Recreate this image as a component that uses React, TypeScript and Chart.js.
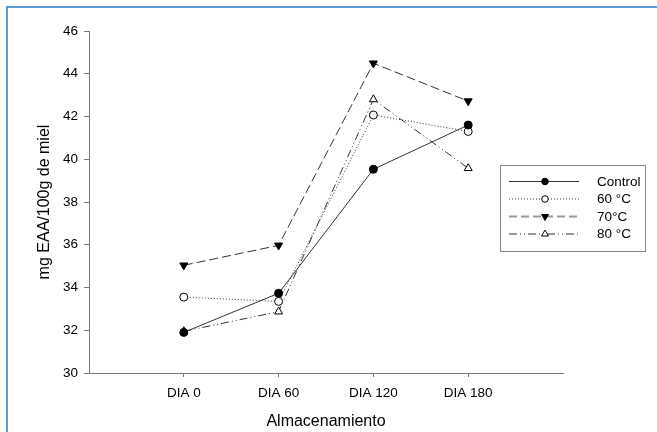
import { useEffect, useRef } from 'react';
import { Chart, registerables } from 'chart.js';

Chart.register(...registerables);

const categories = ['DIA 0', 'DIA 60', 'DIA 120', 'DIA 180'];
const seriesNames = ['Control', '60 °C', '70°C', '80 °C'];
const controlValues = [31.9, 33.73, 39.53, 41.6];
const c60Values = [33.55, 33.35, 42.07, 41.3];
const c70Values = [35.04, 35.97, 44.49, 42.72];
const c80Values = [31.95, 32.87, 42.8, 39.58];
const yMin = 30;
const yMax = 46;
const yStep = 2;

const FONT = '"Liberation Sans", Arial, sans-serif';
const LINE = '#333';

function drawMarker(ctx: CanvasRenderingContext2D, style: string, rot: number, x: number, y: number, r: number, fill: string) {
  ctx.save();
  ctx.setLineDash([]);
  ctx.lineWidth = 1;
  ctx.strokeStyle = '#000';
  ctx.fillStyle = fill;
  ctx.beginPath();
  if (style === 'circle') {
    ctx.arc(x, y, r, 0, Math.PI * 2);
  } else {
    const base = (rot * Math.PI) / 180 - Math.PI / 2;
    for (let k = 0; k < 3; k++) {
      const a = base + (k * 2 * Math.PI) / 3;
      const px = x + Math.cos(a) * r;
      const py = y + Math.sin(a) * r;
      if (k === 0) ctx.moveTo(px, py);
      else ctx.lineTo(px, py);
    }
    ctx.closePath();
  }
  ctx.fill();
  ctx.stroke();
  ctx.restore();
}

const boxLegend = {
  id: 'boxLegend',
  afterDraw(chart: any) {
    const ctx: CanvasRenderingContext2D = chart.ctx;
    ctx.save();
    ctx.strokeStyle = '#888';
    ctx.lineWidth = 1;
    ctx.setLineDash([]);
    ctx.strokeRect(500.5, 165.5, 145, 86);
    chart.data.datasets.forEach((ds: any, i: number) => {
      const y = 181.5 + i * 17.5;
      ctx.save();
      ctx.beginPath();
      ctx.setLineDash(ds.legendDash || ds.borderDash || []);
      ctx.strokeStyle = ds.legendColor || ds.borderColor;
      ctx.lineWidth = ds.legendWidth || ds.borderWidth;
      ctx.moveTo(509, y);
      ctx.lineTo(579, y);
      ctx.stroke();
      ctx.restore();
      drawMarker(ctx, ds.pointStyle, ds.pointRotation || 0, 545, y, ds.pointStyle === 'circle' ? 3.3 : 4, ds.pointBackgroundColor);
      ctx.fillStyle = '#000';
      ctx.font = `13.5px ${FONT}`;
      ctx.textAlign = 'left';
      ctx.textBaseline = 'middle';
      ctx.fillText(ds.label, 597, y + 0.5);
    });
    ctx.restore();
  },
};

const toPoints = (vals: number[]) => vals.map((v, i) => ({ x: i + 1, y: v }));

export default function App() {
  const ref = useRef<HTMLCanvasElement>(null);
  useEffect(() => {
    document.body.style.margin = '0';
    const canvas = ref.current!;
    const chart = new Chart(canvas, {
      type: 'line',
      data: {
        datasets: [
          {
            label: seriesNames[0],
            data: toPoints(controlValues),
            borderColor: LINE,
            borderWidth: 1,
            pointStyle: 'circle',
            pointRadius: 4,
            pointBackgroundColor: '#000',
            pointBorderColor: '#000',
            pointBorderWidth: 1,
          } as any,
          {
            label: seriesNames[1],
            data: toPoints(c60Values),
            borderColor: LINE,
            borderWidth: 1,
            borderDash: [1, 2],
            pointStyle: 'circle',
            pointRadius: 4,
            pointBackgroundColor: '#fff',
            pointBorderColor: '#000',
            pointBorderWidth: 1,
          },
          {
            label: seriesNames[2],
            data: toPoints(c70Values),
            borderColor: LINE,
            borderWidth: 1,
            borderDash: [9, 4],
            legendDash: [8, 4],
            legendColor: '#999',
            legendWidth: 2,
            pointStyle: 'triangle',
            pointRotation: 180,
            pointRadius: 4.6,
            pointBackgroundColor: '#000',
            pointBorderColor: '#000',
            pointBorderWidth: 1,
          },
          {
            label: seriesNames[3],
            data: toPoints(c80Values),
            borderColor: LINE,
            borderWidth: 1,
            borderDash: [8, 3, 1, 3, 1, 3],
            pointStyle: 'triangle',
            pointRadius: 4.6,
            pointBackgroundColor: '#fff',
            pointBorderColor: '#000',
            pointBorderWidth: 1,
          },
        ] as any,
      },
      options: {
        animation: false,
        responsive: false,
        events: [],
        layout: { padding: { left: 0, right: 94, top: 31, bottom: 0 } },
        plugins: { legend: { display: false }, tooltip: { enabled: false } },
        scales: {
          x: {
            type: 'linear',
            min: 0,
            max: categories.length + 1,
            afterBuildTicks: (s: any) => {
              s.ticks = categories.map((_, i) => ({ value: i + 1 }));
            },
            afterFit: (s: any) => {
              s.height = 59;
            },
            ticks: {
              autoSkip: false,
              maxRotation: 0,
              padding: 8,
              color: '#000',
              font: { family: FONT, size: 13.5 },
              callback: (v: any) => categories[Number(v) - 1] ?? '',
            },
            grid: { drawOnChartArea: false, drawTicks: true, tickLength: 4, color: '#777' },
            border: { display: true, color: '#777', width: 1 },
            title: {
              display: true,
              text: 'Almacenamiento',
              color: '#000',
              font: { family: FONT, size: 16 },
              padding: { top: 0, bottom: 1 },
            },
          },
          y: {
            type: 'linear',
            min: yMin,
            max: yMax,
            afterFit: (s: any) => {
              s.width = 89;
            },
            ticks: {
              stepSize: yStep,
              padding: 6,
              color: '#000',
              font: { family: FONT, size: 13.5 },
            },
            grid: { drawOnChartArea: false, drawTicks: true, tickLength: 5, color: '#777' },
            border: { display: true, color: '#777', width: 1 },
            title: {
              display: true,
              text: 'mg EAA/100g de miel',
              color: '#000',
              font: { family: FONT, size: 16 },
              padding: { top: 35, bottom: 0 },
            },
          },
        },
      } as any,
      plugins: [boxLegend],
    });
    return () => chart.destroy();
  }, []);
  return (
    <div style={{ position: 'relative', width: 657, height: 432, background: '#fff' }}>
      <canvas ref={ref} width={657} height={432} style={{ display: 'block' }} />
      <div
        style={{
          position: 'absolute',
          left: 6,
          top: 6,
          width: 651,
          height: 426,
          borderTop: '2px solid #5B9BD5',
          borderLeft: '2px solid #5B9BD5',
          boxSizing: 'border-box',
          pointerEvents: 'none',
        }}
      />
    </div>
  );
}
